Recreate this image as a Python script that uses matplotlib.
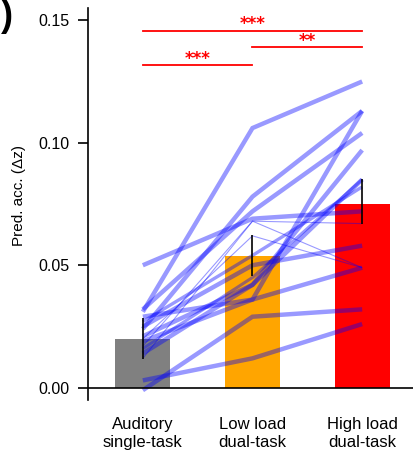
import matplotlib
matplotlib.use("Agg")
import matplotlib.pyplot as plt

plt.rcParams['font.family'] = ['Liberation Sans', 'DejaVu Sans']

# ---- data ----
conditions = ["Auditory\nsingle-task", "Low load\ndual-task", "High load\ndual-task"]
bar_means = [0.0198, 0.0537, 0.0752]
err_lower = [0.0080, 0.0081, 0.0082]
err_upper = [0.0085, 0.0085, 0.0102]
bar_colors = ["#808080", "#FFA500", "#FF0000"]

subj_auditory = [0.031, 0.050, 0.024, 0.032, 0.019, 0.021, 0.014, 0.027, 0.025, 0.029, -0.001, 0.003, 0.017, 0.020, 0.012, 0.016]
subj_low      = [0.106, 0.069, 0.078, 0.072, 0.036, 0.042, 0.042, 0.054, 0.050, 0.036, 0.029, 0.012, 0.068, 0.062, 0.068, 0.045]
subj_high     = [0.125, 0.072, 0.113, 0.104, 0.113, 0.097, 0.085, 0.082, 0.058, 0.049, 0.032, 0.026, 0.067, 0.049, 0.049, 0.085]
subj_width    = [3.2, 3.2, 3.2, 3.2, 3.2, 3.2, 3.2, 2.4, 3.2, 3.2, 3.2, 3.2, 0.8, 0.8, 0.8, 2.2]

sig_pairs = [(0, 2), (1, 2), (0, 1)]
sig_heights = [0.1458, 0.1389, 0.1317]
sig_labels = ["***", "**", "***"]

yticks = [0.00, 0.05, 0.10, 0.15]

# ---- figure ----
W, H = 414, 451
fig = plt.figure(figsize=(W / 100, H / 100), dpi=100)
ax = fig.add_axes([88 / W, (H - 400) / H, (417 - 88) / W, 392 / H])

x = list(range(len(conditions)))
ax.bar(x, bar_means, width=0.5, color=bar_colors, zorder=1)

for a, l, h, w in zip(subj_auditory, subj_low, subj_high, subj_width):
    ax.plot(x, [a, l, h], color="blue", alpha=0.4, lw=w, zorder=2,
            solid_capstyle="butt", solid_joinstyle="miter")

ax.errorbar(x, bar_means, yerr=[err_lower, err_upper], fmt="none",
            ecolor="black", elinewidth=1.2, capsize=0, zorder=4)

for (i, j), yv, lab in zip(sig_pairs, sig_heights, sig_labels):
    ax.plot([i, j], [yv, yv], color="red", lw=1.3, zorder=3)
    ax.text((i + j) / 2, yv + 0.0025, lab, color="red", ha="center",
            va="center", fontsize=12, fontweight="bold", family=["DejaVu Sans"])

ax.axhline(0, color="black", lw=1.2, zorder=5)

ax.set_xlim(-0.5, 2.5)
ax.set_ylim(-0.005, 0.155)
ax.set_yticks(yticks)
ax.set_yticklabels([f"{v:.2f}" for v in yticks])
ax.set_xticks(x)
ax.set_xticklabels(conditions)

for s in ["top", "right", "bottom"]:
    ax.spines[s].set_visible(False)
ax.spines["left"].set_linewidth(1.2)

ax.tick_params(axis="y", direction="out", length=7, width=1.2, pad=6.5, labelsize=11.5)
ax.tick_params(axis="x", length=0, pad=12.5, labelsize=12)

fig.text(19 / W, 1 - 196 / H, "Pred. acc. (\u0394z)", rotation=90,
         ha="center", va="center", fontsize=11)

fig.text(0.5 / W, 1 + 1 / H, ")", ha="left", va="top", fontsize=26,
         fontweight="bold")

fig.savefig("out.png", dpi=100)
